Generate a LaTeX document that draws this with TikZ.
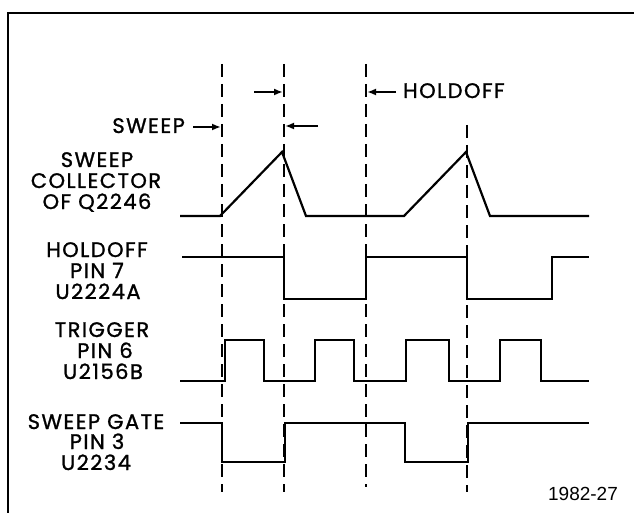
\documentclass[tikz,border=0pt]{standalone}
\usepackage{fontspec}
\setmainfont{Poppins}[FakeBold=1.2, LetterSpace=7]
\newfontfamily\capfont{Liberation Sans}
\usetikzlibrary{arrows.meta}
\tikzset{
  frame/.style={line width=2pt},
  sig/.style={line width=2.2pt, line join=miter},
  mark line/.style={line width=2.2pt, dash pattern=on 13pt off 7pt},
  ptr/.style={line width=2pt, -{Latex[length=9pt,width=7pt]}},
  lbl/.style={anchor=base, inner sep=0pt, font=\fontsize{21}{25}\selectfont},
  figno/.style={anchor=base, inner sep=0pt, font=\capfont\fontsize{19}{23}\selectfont},
}
\begin{document}
\begin{tikzpicture}[x=1pt,y=-1pt]
\useasboundingbox (0,0) rectangle (634,513);
% frame
\coordinate (fl) at (8,513);
\coordinate (fc) at (8,13);
\coordinate (fr) at (634,13);
\draw[frame] (fl) -- (fc) -- (fr);

% dashed time markers
\coordinate (t1top) at (222,64);  \coordinate (t1bot) at (222,492);
\coordinate (t2top) at (284,64);  \coordinate (t2bot) at (284,492);
\coordinate (t3top) at (366,64);  \coordinate (t3bot) at (366,487);
\coordinate (t4top) at (467,125); \coordinate (t4bot) at (467,492);
\draw[mark line] (t1top) -- (t1bot);
\draw[mark line] (t2top) -- (t2bot);
\draw[mark line] (t3top) -- (t3bot);
\draw[mark line] (t4top) -- (t4bot);

% pointer arrows
\coordinate (a1s) at (193,127); \coordinate (a1e) at (221,127);
\coordinate (a2s) at (254,92);  \coordinate (a2e) at (283,92);
\coordinate (a3s) at (318,126); \coordinate (a3e) at (285,126);
\coordinate (a4s) at (396,92);  \coordinate (a4e) at (367,92);
\draw[ptr] (a1s) -- (a1e);
\draw[ptr] (a2s) -- (a2e);
\draw[ptr] (a3s) -- (a3e);
\draw[ptr] (a4s) -- (a4e);
\node[lbl, anchor=base east] (lsweep) at (185,133) {SWEEP};
\node[lbl, anchor=base west] (lhold) at (403,98) {HOLDOFF};

% waveforms
\draw[sig] (180,216) -- (220,216) -- (282,152) -- (306,216) -- (404,216)
  -- (466,152) -- (490,216) -- (589,216);
\draw[sig] (182,257) -- (284,257) -- (284,299) -- (366,299) -- (366,257)
  -- (467,257) -- (467,299) -- (552,299) -- (552,257) -- (589,257);
\draw[sig] (180,381) -- (225,381) -- (225,340) -- (264,340) -- (264,381)
  -- (315,381) -- (315,340) -- (354,340) -- (354,381) -- (406,381)
  -- (406,340) -- (449,340) -- (449,381) -- (500,381) -- (500,340)
  -- (541,340) -- (541,381) -- (589,381);
\draw[sig] (180,423) -- (222,423) -- (222,462) -- (285,462) -- (285,423)
  -- (405,423) -- (405,462) -- (468,462) -- (468,423) -- (589,423);

% signal labels
\node[lbl] (s1a) at (97,167) {SWEEP};
\node[lbl] (s1b) at (96,188) {COLLECTOR};
\node[lbl] (s1c) at (97,209) {OF Q2246};
\node[lbl] (s2a) at (97,257) {HOLDOFF};
\node[lbl] (s2b) at (97,278) {PIN 7};
\node[lbl] (s2c) at (98,299) {U2224A};
\node[lbl] (s3a) at (102,337) {TRIGGER};
\node[lbl] (s3b) at (105,358) {PIN 6};
\node[lbl] (s3c) at (103,379) {U2156B};
\node[lbl] (s4a) at (96,429) {SWEEP GATE};
\node[lbl] (s4b) at (97,449) {PIN 3};
\node[lbl] (s4c) at (96,470) {U2234};

\node[figno] (fig) at (583,500) {1982-27};
\end{tikzpicture}
\end{document}
